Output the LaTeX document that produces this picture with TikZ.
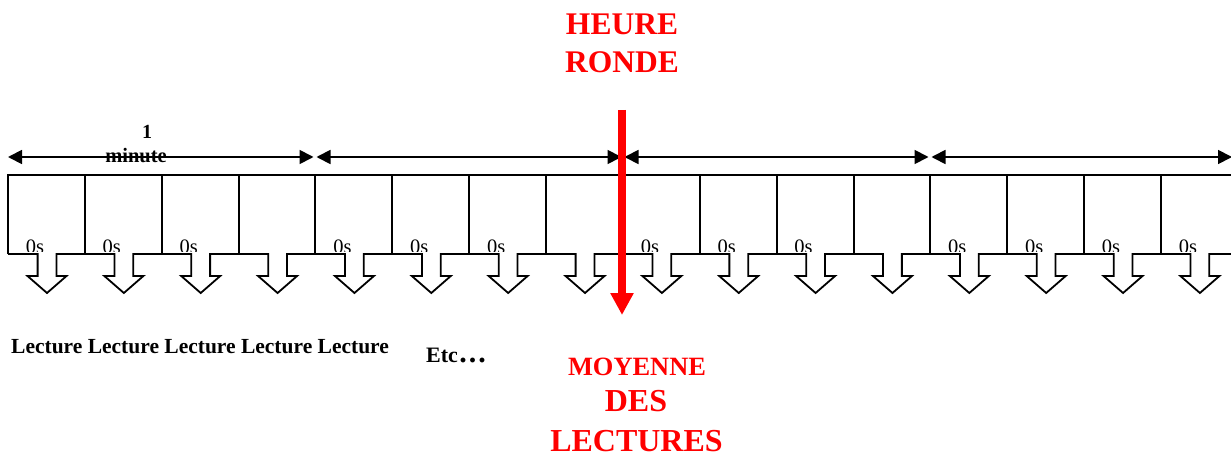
\documentclass[tikz,border=0pt]{standalone}
\usepackage{fontspec}
\setmainfont{Liberation Serif}
\usetikzlibrary{arrows.meta}

\begin{document}
\begin{tikzpicture}[x=1pt,y=-1pt,
  frame/.style={line width=1.8pt,black,line join=miter},
  span/.style={line width=1.8pt,black,{Triangle[length=14pt,width=14pt]}-{Triangle[length=14pt,width=14pt]}},
  redlabel/.style={text=red,font=\bfseries,inner sep=0pt},
  blacklabel/.style={font=\bfseries,inner sep=0pt},
  sec/.style={inner sep=0pt,anchor=base,font=\fontsize{20.5}{22}\selectfont}]
\useasboundingbox (0,0) rectangle (1231,457);
\clip (0,0) rectangle (1231,457);

% cell grid
\draw[frame] (8,254) -- (8,175) -- (1240,175);
\foreach \x in {85,162,239,315,392,469,546,623,700,777,854,930,1007,1084,1161}
  \draw[frame] (\x,175) -- (\x,254);

% bottom edge with one block arrow per cell
\draw[frame] (8,254)
  \foreach \k in {0,...,15}{
    -- ({47+76.86*\k-9.4},254) -- ({47+76.86*\k-9.4},276)
    -- ({47+76.86*\k-19.5},276) -- ({47+76.86*\k},293)
    -- ({47+76.86*\k+19.5},276) -- ({47+76.86*\k+9.4},276)
    -- ({47+76.86*\k+9.4},254)
  } -- (1240,254);

% seconds labels, their lower part hidden just above the bottom edge
\begin{scope}
  \clip (0,225) rectangle (1231,251);
  \foreach \k in {0,1,2,4,5,6,8,9,10,12,13,14,15}
    \node[sec] (s\k) at ({35+76.86*\k},253) {0s};
\end{scope}

% one-minute spans
\coordinate (t0) at (8,157);
\coordinate (t1) at (315,157);
\coordinate (t2) at (623,157);
\coordinate (t3) at (930,157);
\coordinate (t4) at (1232,157);
\draw[span,shorten >=1.5pt] (t0) -- (t1);
\draw[span,shorten <=1.5pt,shorten >=1.5pt] (t1) -- (t2);
\draw[span,shorten <=1.5pt,shorten >=1.5pt] (t2) -- (t3);
\draw[span,shorten <=1.5pt] (t3) -- (t4);

\node[blacklabel,font=\bfseries\fontsize{20}{22}\selectfont] (one) at (147,132) {1};
\node[blacklabel,font=\bfseries\fontsize{20.5}{22}\selectfont] (min) at (136,156) {minute};

% round hour marker
\coordinate (rtop) at (622,110);
\coordinate (rbot) at (622,315);
\draw[red,line width=8pt,-{Triangle[length=22pt,width=22pt]}] (rtop) -- (rbot);

\node[redlabel,font=\bfseries\fontsize{31.5}{34}\selectfont] (heure) at (622,24) {HEURE};
\node[redlabel,font=\bfseries\fontsize{31.5}{34}\selectfont] (ronde) at (622,62) {RONDE};

\node[redlabel,font=\bfseries\fontsize{26.4}{30}\selectfont] (moy) at (637,367) {MOYENNE};
\node[redlabel,font=\bfseries\fontsize{32}{34}\selectfont] (des) at (636,401) {DES};
\node[redlabel,font=\bfseries\fontsize{32}{34}\selectfont] (lect) at (636.5,441) {LECTURES};

% readings
\node[blacklabel,anchor=base west,font=\bfseries\fontsize{21.5}{24}\selectfont] (reads) at (11,353)
  {Lecture Lecture Lecture Lecture Lecture};
\node[blacklabel,anchor=base west,font=\bfseries\fontsize{22}{24}\selectfont] (etc) at (426,362)
  {Etc\kern1.5pt{\fontsize{30}{30}\selectfont .\kern2pt.\kern2pt.}};
\end{tikzpicture}
\end{document}
